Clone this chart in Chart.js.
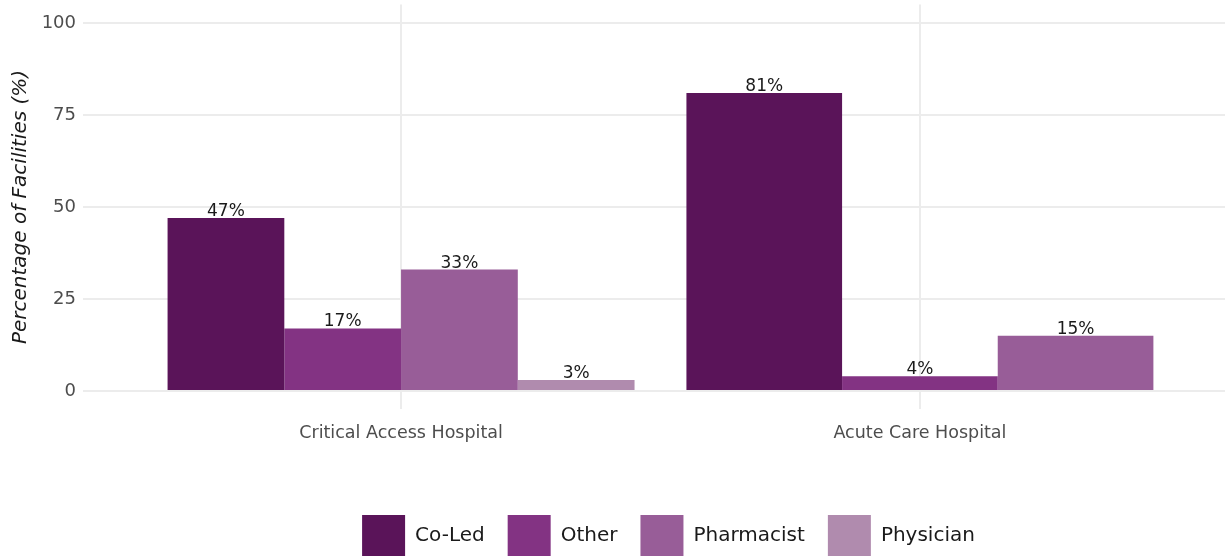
<!DOCTYPE html>
<html>
<head>
<meta charset="utf-8">
<script src="https://cdn.jsdelivr.net/npm/chart.js@4.4.1/dist/chart.umd.min.js"></script>
<style>
  html, body { margin: 0; padding: 0; background: #ffffff; }
  #wrap { width: 1225px; height: 556px; position: relative; }
</style>
</head>
<body>
<div id="wrap"><canvas id="c" width="1225" height="556"></canvas></div>
<script>
// ---- data ----
const categories = ['Critical Access Hospital', 'Acute Care Hospital'];
const seriesNames = ['Co-Led', 'Other', 'Pharmacist', 'Physician'];
const coLed = [47, 81];
const other = [17, 4];
const pharmacist = [33, 15];
const physician = [3, null];
const yTicks = [0, 25, 50, 75, 100];
const colors = ['#5A1459', '#833383', '#985D98', '#B08BAE'];

const seriesValues = [coLed, other, pharmacist, physician];
const FONT = "'DejaVu Sans', 'Liberation Sans', sans-serif";

const datasets = seriesNames.map((name, s) => ({
  label: name,
  data: seriesValues[s].map((v, i) => ({ x: i + 1, y: v })),
  backgroundColor: colors[s],
  borderWidth: 0,
  categoryPercentage: 0.9,
  barPercentage: 1.0,
  skipNull: true
}));

const valueLabels = {
  id: 'valueLabels',
  afterDatasetsDraw(chart) {
    const ctx = chart.ctx;
    ctx.save();
    ctx.font = '17px ' + FONT;
    ctx.fillStyle = '#1a1a1a';
    ctx.textAlign = 'center';
    ctx.textBaseline = 'alphabetic';
    chart.data.datasets.forEach((ds, di) => {
      const meta = chart.getDatasetMeta(di);
      meta.data.forEach((bar, i) => {
        const v = ds.data[i].y;
        if (v === null || v === undefined) return;
        ctx.fillText(v + '%', bar.x, bar.y - 2);
      });
    });
    ctx.restore();
  }
};

const legendShift = {
  id: 'legendShift',
  afterLayout(chart) {
    const lg = chart.legend;
    if (!lg) return;
    lg.left += 56; lg.right += 56;
    lg.top += 10; lg.bottom += 10;
  }
};

new Chart(document.getElementById('c'), {
  type: 'bar',
  data: { datasets },
  options: {
    responsive: false,
    animation: false,
    layout: { padding: { top: 4.6, left: 0, right: 0, bottom: 0 } },
    plugins: {
      tooltip: { enabled: false },
      legend: {
        position: 'bottom',
        align: 'center',
        labels: {
          boxWidth: 43,
          boxHeight: 41,
          padding: 23,
          color: '#1a1a1a',
          font: { family: FONT, size: 20 }
        }
      }
    },
    scales: {
      x: {
        type: 'linear',
        min: 0.387,
        max: 2.588,
        offset: false,
        afterBuildTicks(scale) { scale.ticks = categories.map((c, i) => ({ value: i + 1 })); },
        afterFit(scale) { scale.height = 72.6; scale.paddingLeft = 0; scale.paddingRight = 0; },
        ticks: {
          padding: 14,
          color: '#4d4d4d',
          font: { family: FONT, size: 17.5 },
          callback: (v) => categories[Math.round(v) - 1] || ''
        },
        grid: { color: '#ececec', lineWidth: 2, drawTicks: false, offset: false },
        border: { display: false }
      },
      y: {
        min: -5,
        max: 105,
        afterBuildTicks(scale) { scale.ticks = yTicks.map(v => ({ value: v })); },
        afterFit(scale) { scale.width = 83; scale.paddingTop = 0; scale.paddingBottom = 0; },
        ticks: {
          padding: 7,
          color: '#4d4d4d',
          font: { family: FONT, size: 18 }
        },
        grid: { color: '#ececec', lineWidth: 2, drawTicks: false },
        border: { display: false },
        title: {
          display: true,
          text: 'Percentage of Facilities (%)',
          color: '#1a1a1a',
          font: { family: FONT, size: 20, style: 'italic' },
          padding: { top: 9, bottom: 0 }
        }
      }
    }
  },
  plugins: [valueLabels, legendShift]
});
</script>
</body>
</html>
